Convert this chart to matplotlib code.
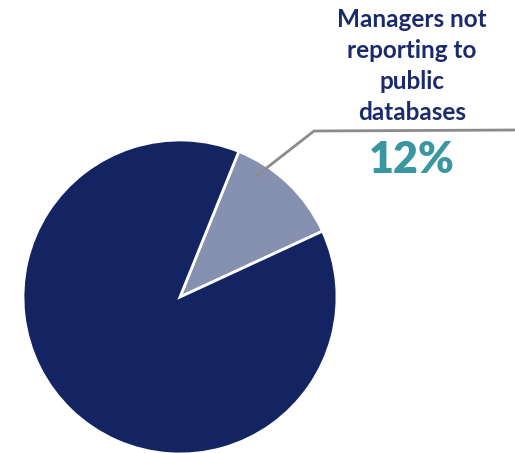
import matplotlib
matplotlib.use("Agg")
import matplotlib.pyplot as plt

labels = ["Managers not\nreporting to\npublic\ndatabases", "Other managers"]
shares = [12, 88]
colors = ["#8690B1", "#142462"]

W, H = 515, 453
fig = plt.figure(figsize=(W / 100, H / 100), dpi=100)
ax = fig.add_axes([0, 0, 1, 1])

cx, cy, r = 180, H - 297, 157
ax.pie(shares, colors=colors, startangle=68, counterclock=False,
       center=(cx, cy), radius=r, frame=True,
       wedgeprops=dict(edgecolor="white", linewidth=2))
ax.set_xlim(0, W)
ax.set_ylim(0, H)
ax.set_aspect("equal")
ax.axis("off")

# leader line from the small slice to the label
ax.plot([255, 314, W], [H - 177, H - 131, H - 130], color="#8C8C8C",
        lw=2, solid_capstyle="butt", zorder=5)

ax.text(412, H - 66, labels[0], ha="center", va="center",
        fontsize=17.5, fontweight="bold", color="#1B2A6B",
        family="Lato", linespacing=1.42)
ax.text(412, H - 160, f"{shares[0]}%", ha="center", va="center",
        fontsize=31, fontweight="heavy", color="#3A96A0", family="Lato")

fig.savefig("out.png", dpi=100)
